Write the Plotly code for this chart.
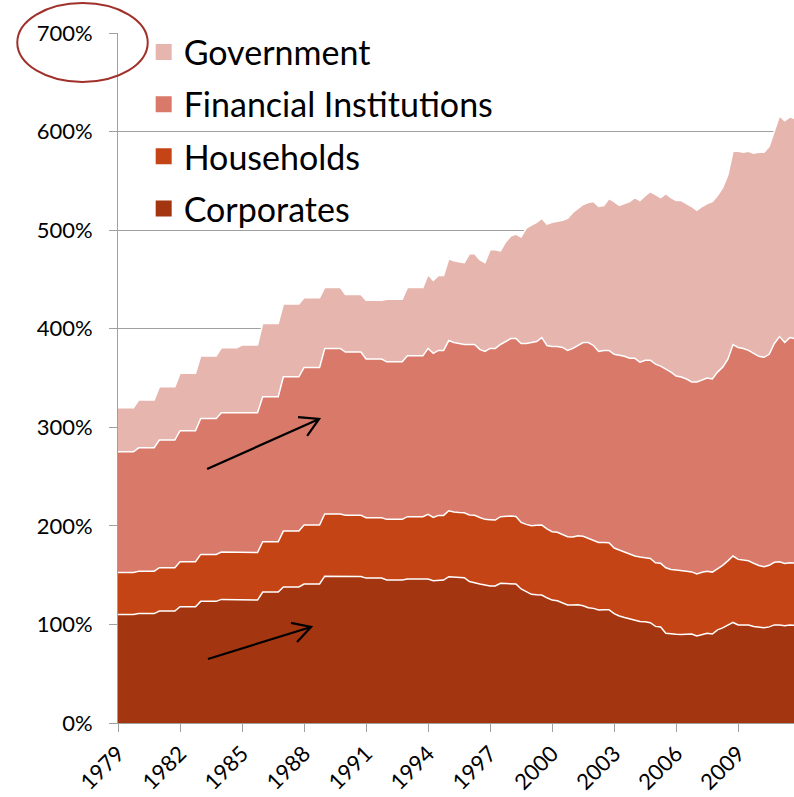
import plotly.graph_objects as go

# ---------------- data (percent of GDP) ----------------
series_names = ["Corporates", "Households", "Financial Institutions", "Government"]
colors = ["#A33510", "#C44416", "#D9796A", "#E6B5AE"]

# annual observations 1979-1993
annual_years = list(range(1979, 1994))
corp_annual = [110, 111, 113.6, 118, 123.4, 125.4, 124.7, 132.8, 138, 141, 149, 148.6, 147, 145, 146]
hh_annual = [42.8, 43, 43.9, 45.6, 47.6, 48, 48.3, 51.1, 56.7, 59.8, 63, 62.1, 61.2, 61.6, 63.3]
fin_annual = [122.4, 125.2, 129.5, 132.9, 138, 141.3, 141.7, 147.1, 156.5, 159.9, 168, 165.6, 161, 159.8, 163.2]
gov_annual = [44.6, 48.4, 54, 58.2, 63.2, 66, 68.7, 74.4, 73.8, 70.7, 61.9, 58.5, 59.8, 63.6, 69.4]

# quarterly observations 1994Q1 - 2011Q4
quarter_start = 1994
corp_q = [146, 144.3, 145, 145, 148.4, 148, 147.4, 147.4, 143.5, 142, 141, 140,
          139, 139, 141.7, 141.5, 141.2, 141, 136, 133, 130.5, 130, 129.8, 127,
          124.7, 124, 122, 119.7, 119.8, 120, 119, 117, 116.3, 114.6, 115, 115,
          111, 108.5, 107, 105.5, 104, 103, 102.7, 101.7, 98, 97.4, 91, 90.2,
          90, 89.9, 90, 90.3, 88.2, 89.5, 91, 90.3, 94.5, 96.5, 99.5, 102,
          99.4, 99.4, 99.4, 98, 97, 96.7, 97.5, 99.5, 99.5, 98.6, 99.4, 99]
hh_q = [65.7, 64.3, 65.6, 65.6, 66.9, 66, 66.1, 65.9, 67.5, 68.7, 67.5, 66.6,
        67.3, 66.9, 67.6, 68.3, 68.8, 68.5, 67.5, 68.5, 69.6, 70.5, 71, 70,
        69.3, 69.5, 69.5, 69.3, 68.8, 70, 70.5, 70.5, 69.2, 68.6, 68, 67.9,
        66.5, 67, 66.7, 66, 65.5, 65.5, 64.9, 65.3, 64.6, 64.6, 66.5, 65.5,
        65.2, 65, 64, 63, 63.1, 63.5, 63, 62.8, 62, 63.5, 65, 67.4,
        66.6, 65.6, 65.2, 64, 62.8, 61.8, 62.5, 63.5, 64, 63.2, 63.2, 63.3]
fin_q = [168.3, 166.4, 167.4, 167.4, 172.7, 172, 171.5, 170.7, 173, 173.3, 170.5, 170.4,
         173.7, 174.1, 174.7, 177.2, 180, 180.5, 181.5, 183.5, 185.9, 186.5, 190.2, 186,
         188, 188.5, 189.5, 189, 191.4, 193, 196.5, 198.5, 197.5, 193.8, 195, 195.1,
         196.5, 197.5, 198.3, 198.5, 200.5, 197.5, 200.4, 201, 201.4, 200, 201.5, 200.3,
         196.8, 196.1, 195, 192.7, 194.7, 195, 196, 195.9, 199.5, 201, 204.5, 214.6,
         215, 215, 213.4, 213, 212.2, 212.5, 214, 222, 228.5, 224.2, 228.4, 227.7]
gov_q = [75, 74, 76, 76, 83, 83, 83, 83, 92, 92, 91, 90,
         100, 100, 95, 101, 104, 106, 108, 117, 119, 121, 121, 123,
         126, 127, 129, 134, 138, 139, 140, 142, 146, 147, 147, 154,
         155, 152, 155, 159, 163, 164, 167, 171, 172, 171, 178, 177,
         178, 179, 178, 178, 174, 176, 177, 180, 179, 182, 187, 196,
         199, 199, 202, 203, 207, 208, 211, 215, 224, 225, 224, 223]

x_tickvals = list(range(1979, 2010, 3))
y_tickvals = [0, 100, 200, 300, 400, 500, 600, 700]

# ---------------- build time axis ----------------
# annual values are held through the year (as in the quarterly source)
x_all = []
for y in annual_years:
    x_all += [y, y + 0.75]
x_all += [quarter_start + i / 4 for i in range(len(corp_q))]


def expand(annual, quarterly):
    vals = []
    for v in annual:
        vals += [v, v]
    return vals + quarterly


series = [expand(corp_annual, corp_q), expand(hh_annual, hh_q),
          expand(fin_annual, fin_q), expand(gov_annual, gov_q)]

fig = go.Figure()
for name, vals, col in zip(series_names, series, colors):
    fig.add_trace(go.Scatter(
        x=x_all, y=vals, name=name, stackgroup="one", mode="lines",
        line=dict(color="white", width=1.5), fillcolor=col, showlegend=False,
        hoverinfo="skip"))

# legend entries (square swatches), top to bottom
for name, col in zip(series_names[::-1], colors[::-1]):
    fig.add_trace(go.Scatter(
        x=[None], y=[None], mode="markers", name=name, legendgroup=name,
        marker=dict(symbol="square", size=16, color=col)))

FONT = "Lato, 'Open Sans', sans-serif"

fig.update_layout(
    width=794, height=797,
    margin=dict(l=118, r=0, t=33, b=74),
    paper_bgcolor="white", plot_bgcolor="white",
    font=dict(family=FONT, color="black"),
    showlegend=True,
    legend=dict(x=0.038, y=1.014, xanchor="left", yanchor="top",
                font=dict(size=34, family=FONT), bgcolor="rgba(0,0,0,0)",
                tracegroupgap=5, traceorder="grouped", itemsizing="trace"),
    xaxis=dict(range=[1979, 2011.7], tickmode="array", tickvals=x_tickvals,
               ticktext=[str(v) for v in x_tickvals], tickangle=-45,
               showgrid=False, zeroline=False, showline=True, automargin=False,
               linecolor="#A0A0A0", linewidth=1, ticks="outside", ticklen=8,
               tickcolor="#A0A0A0", ticklabelstandoff=0,
               tickfont=dict(size=22, family=FONT)),
    yaxis=dict(range=[0, 700], tickmode="array", tickvals=y_tickvals,
               ticktext=[f"{v}%" for v in y_tickvals], automargin=False,
               showgrid=True, gridcolor="#A0A0A0", gridwidth=1,
               zeroline=False, showline=True, linecolor="#A0A0A0", linewidth=1,
               ticks="outside", ticklen=8, tickcolor="#A0A0A0",
               ticklabelstandoff=12, tickfont=dict(size=22, family=FONT)),
)

# red ellipse around the 700% label
fig.add_shape(type="circle", xref="paper", yref="paper",
              x0=-0.149, x1=0.044, y0=0.929, y1=1.0435,
              line=dict(color="#A0302A", width=2), layer="above")

# arrows (shaft + open head)
arrow_paths = [
    "M 1983.31 257.7 L 1988.73 308.4 M 1987.71 310.4 L 1988.73 308.4 L 1988.15 291.2",
    "M 1983.35 64.9 L 1988.34 97.4 M 1987.37 101.5 L 1988.34 97.4 L 1987.66 82.2",
]
for p in arrow_paths:
    fig.add_shape(type="path", xref="x", yref="y", path=p,
                  line=dict(color="black", width=2.2), layer="above")

fig.write_html("out.html", config={"displayModeBar": False},
               post_script="document.body.style.margin='0px';document.body.style.overflow='hidden';")
